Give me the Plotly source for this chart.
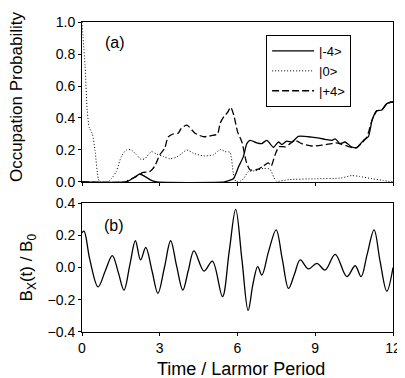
import plotly.graph_objects as go

# ---- top panel data: occupation probabilities ----
t_m4 = [0, 1.7, 1.78, 2.03, 2.23, 2.42, 2.68, 2.9, 5.5, 5.59, 5.84, 6.04, 6.23, 6.36, 6.49, 6.74, 6.93,
        7.13, 7.39, 7.58, 7.71, 7.9, 8.1, 8.35, 8.87, 9.38, 9.64, 9.77, 9.96, 10.15, 10.4, 10.6, 10.86,
        11.05, 11.2, 11.38, 11.57, 11.76, 11.96, 12.0]
p_m4 = [0, 0, 0.005, 0.03, 0.05, 0.035, 0.01, 0.0, 0.0, 0.005, 0.02, 0.095, 0.16, 0.24, 0.26, 0.245, 0.24,
        0.26, 0.217, 0.25, 0.234, 0.255, 0.25, 0.285, 0.28, 0.267, 0.26, 0.27, 0.24, 0.25, 0.22, 0.215, 0.26,
        0.283, 0.39, 0.446, 0.45, 0.49, 0.5, 0.5]

t_0 = [0, 0.12, 0.2, 0.28, 0.4, 0.5, 0.63, 0.7, 1.0, 1.13, 1.32, 1.52, 1.71, 1.9, 2.1, 2.29, 2.42, 2.68,
       2.87, 3.13, 3.39, 3.64, 3.83, 4.04, 4.3, 4.68, 5.07, 5.35, 5.52, 5.71, 5.84, 5.95, 6.1, 6.23, 6.42,
       6.7, 7.0, 7.25, 7.4, 7.5, 8.0, 9.0, 10.0, 10.4, 10.7, 11.2, 11.6, 12.0]
p_0 = [1.0, 0.72, 0.45, 0.34, 0.3, 0.2, 0.02, 0.0, 0.0, 0.02, 0.065, 0.16, 0.2, 0.2, 0.17, 0.14, 0.145, 0.19,
       0.175, 0.16, 0.145, 0.155, 0.175, 0.2, 0.18, 0.163, 0.17, 0.204, 0.19, 0.185, 0.054, 0.0, 0.005, 0.02, 0.065,
       0.07, 0.085, 0.08, 0.03, 0.005, 0.015, 0.02, 0.025, 0.04, 0.035, 0.02, 0.01, 0.0]

t_p4 = [0, 1.7, 1.78, 2.1, 2.36, 2.61, 2.81, 3.0, 3.19, 3.32, 3.51, 3.71, 3.83, 4.05, 4.36, 4.68, 5.0, 5.23,
        5.33, 5.48, 5.61, 5.74, 5.87, 6.0, 6.17, 6.35, 6.49, 6.8, 7.0, 7.19, 7.3, 7.45, 7.6, 7.84, 8.03, 8.22,
        8.48, 8.87, 9.25, 9.64, 9.8, 10.03, 10.22, 10.41, 10.6, 10.8, 10.99, 11.2, 11.38, 11.57, 11.76, 11.96, 12.0]
p_p4 = [0, 0, 0.01, 0.035, 0.06, 0.065, 0.1, 0.17, 0.21, 0.28, 0.3, 0.305, 0.335, 0.355, 0.305, 0.283, 0.29, 0.3,
        0.367, 0.41, 0.433, 0.467, 0.41, 0.315, 0.25, 0.12, 0.075, 0.08, 0.1, 0.12, 0.1, 0.17, 0.22, 0.22, 0.24, 0.26,
        0.24, 0.225, 0.23, 0.24, 0.245, 0.235, 0.225, 0.215, 0.215, 0.245, 0.28, 0.39, 0.446, 0.45, 0.49, 0.5, 0.5]

# ---- bottom panel data: Bx(t)/B0 ----
t_b = [0.0, 0.08, 0.3, 0.62, 0.9, 1.17, 1.4, 1.62, 1.85, 2.06, 2.26, 2.46, 2.7, 2.93, 3.18, 3.42, 3.65, 3.89,
       4.1, 4.32, 4.71, 5.03, 5.42, 5.68, 5.93, 6.17, 6.41, 6.6, 6.78, 6.94, 7.2, 7.49, 7.73, 7.97, 8.2, 8.42,
       8.74, 9.06, 9.38, 9.77, 10.22, 10.54, 10.77, 11.0, 11.27, 11.5, 11.76, 12.0]
b_x = [0.215, 0.225, 0.05, -0.12, -0.02, 0.074, -0.03, -0.14, 0.02, 0.166, 0.047, 0.124, -0.02, -0.16, 0.0, 0.166,
       0.01, -0.14, -0.02, 0.103, -0.022, 0.04, -0.18, 0.1, 0.36, 0.05, -0.266, -0.1, 0.005, -0.047, 0.1, 0.234,
       0.05, -0.13, -0.04, 0.047, -0.009, 0.026, -0.016, 0.082, -0.057, 0.011, -0.057, 0.08, 0.234, 0.04, -0.147, 0.0]

x_ticks = [0, 3, 6, 9, 12]
y1_ticks = [0.0, 0.2, 0.4, 0.6, 0.8, 1.0]
y2_ticks = [-0.4, -0.2, 0.0, 0.2, 0.4]

FONT = "Arial, Liberation Sans, sans-serif"

fig = go.Figure()
fig.add_trace(go.Scatter(x=t_m4, y=p_m4, mode="lines", name="|-4&gt;",
                         line=dict(color="black", width=1.3, shape="spline", smoothing=0.6),
                         xaxis="x", yaxis="y"))
fig.add_trace(go.Scatter(x=t_0, y=p_0, mode="lines", name="|0&gt;",
                         line=dict(color="black", width=1, dash="1px,2px", shape="spline", smoothing=0.6),
                         xaxis="x", yaxis="y"))
fig.add_trace(go.Scatter(x=t_p4, y=p_p4, mode="lines", name="|+4&gt;",
                         line=dict(color="black", width=1.3, dash="7px,3px", shape="spline", smoothing=0.6),
                         xaxis="x", yaxis="y"))
fig.add_trace(go.Scatter(x=t_b, y=b_x, mode="lines", showlegend=False,
                         line=dict(color="black", width=1.3, shape="spline", smoothing=1.0),
                         xaxis="x2", yaxis="y2"))

axis_common = dict(showline=True, linecolor="black", linewidth=1, mirror=True, ticks="outside",
                   ticklen=3, tickcolor="black", tickwidth=1, showgrid=False, zeroline=False,
                   automargin=False,
                   tickfont=dict(family=FONT, size=14, color="black"))

# page body has an 8px margin, so the figure is 8px smaller and margins shifted
fig.update_layout(
    width=397, height=370, autosize=False,
    margin=dict(l=74, r=12, t=14, b=46, autoexpand=False, pad=0),
    paper_bgcolor="white", plot_bgcolor="white",
    font=dict(family=FONT, color="black"),
    showlegend=True,
    legend=dict(x=0.592, y=0.958, xanchor="left", yanchor="top",
                bordercolor="black", borderwidth=1, bgcolor="white",
                font=dict(family=FONT, size=13, color="black"),
                tracegroupgap=0, itemwidth=42),
    xaxis=dict(domain=[0, 1], range=[0, 12], tickvals=x_ticks, showticklabels=False,
               anchor="y", **axis_common),
    yaxis=dict(domain=[0.4839, 1.0], range=[0, 1.0], tickvals=y1_ticks,
               tickformat=".1f", anchor="x", **axis_common),
    xaxis2=dict(domain=[0, 1], range=[0, 12], tickvals=x_ticks, anchor="y2", **axis_common),
    yaxis2=dict(domain=[0, 0.4161], range=[-0.4, 0.4], tickvals=y2_ticks,
                tickformat=".1f", anchor="x2", **axis_common),
    hovermode=False,
    annotations=[
        dict(text="(a)", xref="x", yref="y", x=0.8, y=0.87, showarrow=False,
             xanchor="left", yanchor="middle", font=dict(family=FONT, size=16)),
        dict(text="(b)", xref="x2", yref="y2", x=0.76, y=0.26, showarrow=False,
             xanchor="left", yanchor="middle", font=dict(family=FONT, size=16)),
        dict(text="Occupation Probability", xref="paper", yref="paper", x=-0.21, y=0.76,
             textangle=-90, showarrow=False, xanchor="center", yanchor="middle",
             font=dict(family=FONT, size=17)),
        dict(text="B<sub>X</sub>(t) / B<sub>0</sub>", xref="paper", yref="paper", x=-0.174, y=0.208,
             textangle=-90, showarrow=False, xanchor="center", yanchor="middle",
             font=dict(family=FONT, size=17)),
        dict(text="Time / Larmor Period", xref="paper", yref="paper", x=0.51, y=-0.12,
             showarrow=False, xanchor="center", yanchor="middle",
             font=dict(family=FONT, size=18)),
    ],
)

fig.write_html("out.html")
